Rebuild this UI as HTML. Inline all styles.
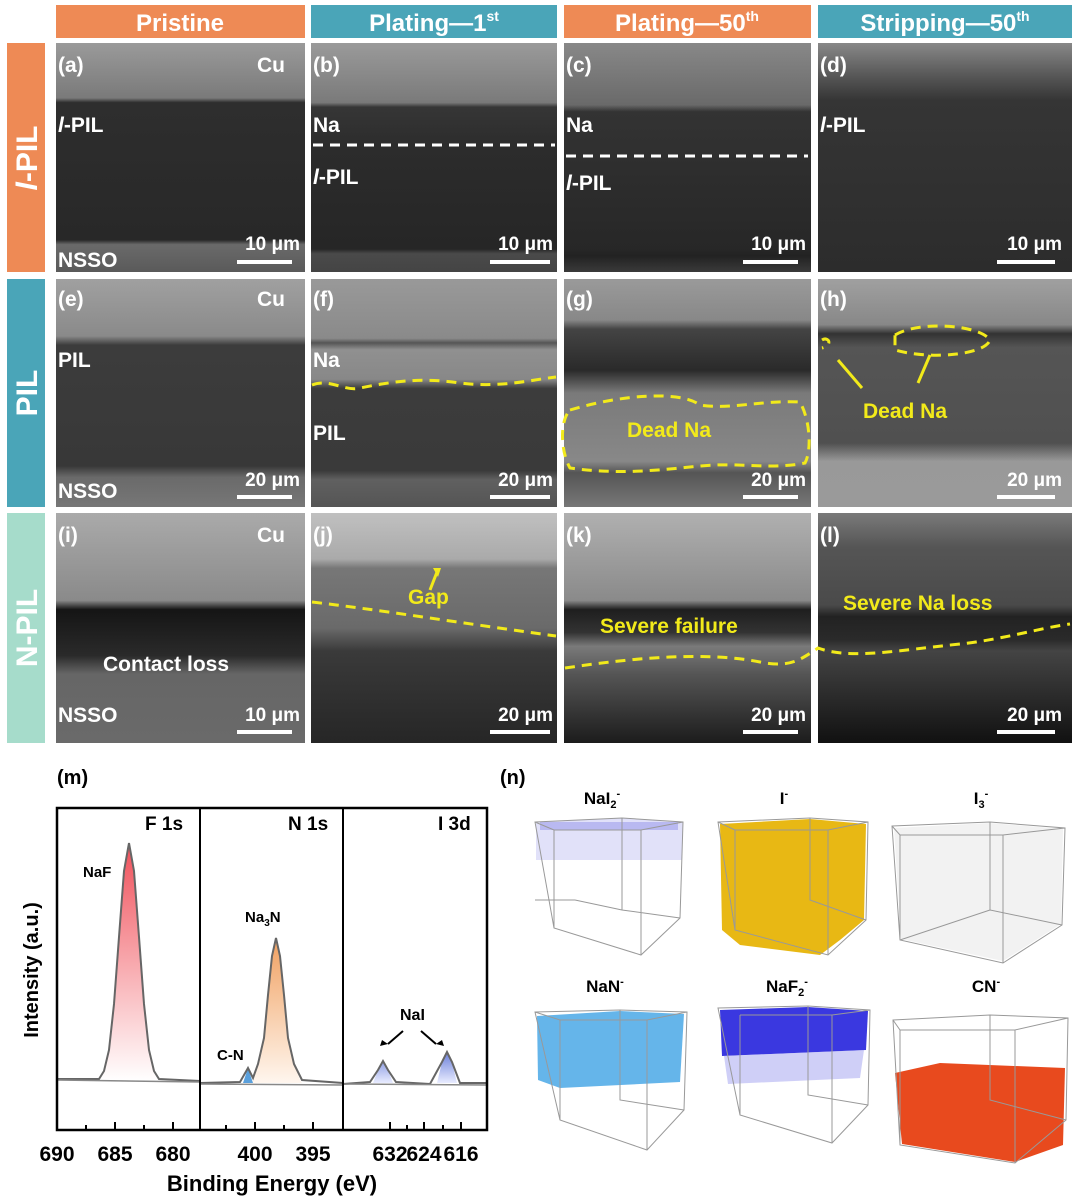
<!DOCTYPE html>
<html><head><meta charset="utf-8"><style>
html,body{margin:0;padding:0;background:#fff;}
svg{display:block;font-family:"Liberation Sans",sans-serif;font-weight:bold;}
</style></head><body>
<svg width="1079" height="1201" viewBox="0 0 1079 1201" xmlns="http://www.w3.org/2000/svg">
<defs>
<linearGradient id="ga" x1="0" y1="0" x2="0" y2="1"><stop offset="0" stop-color="#9a9a9a"/><stop offset=".24" stop-color="#7a7a7a"/><stop offset=".26" stop-color="#2e2e2e"/><stop offset=".86" stop-color="#282828"/><stop offset=".88" stop-color="#6a6a6a"/><stop offset="1" stop-color="#5a5a5a"/></linearGradient>
<linearGradient id="gb" x1="0" y1="0" x2="0" y2="1"><stop offset="0" stop-color="#9a9a9a"/><stop offset=".26" stop-color="#7a7a7a"/><stop offset=".28" stop-color="#363636"/><stop offset=".45" stop-color="#2c2c2c"/><stop offset=".9" stop-color="#262626"/><stop offset=".92" stop-color="#4a4a4a"/><stop offset="1" stop-color="#444"/></linearGradient>
<linearGradient id="gc" x1="0" y1="0" x2="0" y2="1"><stop offset="0" stop-color="#888"/><stop offset=".27" stop-color="#6a6a6a"/><stop offset=".3" stop-color="#333"/><stop offset=".9" stop-color="#272727"/><stop offset=".93" stop-color="#222"/><stop offset="1" stop-color="#3a3a3a"/></linearGradient>
<linearGradient id="gd" x1="0" y1="0" x2="0" y2="1"><stop offset="0" stop-color="#888"/><stop offset=".15" stop-color="#555"/><stop offset=".25" stop-color="#353535"/><stop offset="1" stop-color="#2c2c2c"/></linearGradient>
<linearGradient id="ge" x1="0" y1="0" x2="0" y2="1"><stop offset="0" stop-color="#a0a0a0"/><stop offset=".25" stop-color="#8a8a8a"/><stop offset=".29" stop-color="#3c3c3c"/><stop offset=".82" stop-color="#383838"/><stop offset=".87" stop-color="#6a6a6a"/><stop offset="1" stop-color="#777"/></linearGradient>
<linearGradient id="gf" x1="0" y1="0" x2="0" y2="1"><stop offset="0" stop-color="#999"/><stop offset=".26" stop-color="#8a8a8a"/><stop offset=".28" stop-color="#555"/><stop offset=".31" stop-color="#909090"/><stop offset=".44" stop-color="#888"/><stop offset=".48" stop-color="#3c3c3c"/><stop offset=".84" stop-color="#3a3a3a"/><stop offset=".88" stop-color="#606060"/><stop offset="1" stop-color="#555"/></linearGradient>
<linearGradient id="gg" x1="0" y1="0" x2="0" y2="1"><stop offset="0" stop-color="#9a9a9a"/><stop offset=".18" stop-color="#888"/><stop offset=".22" stop-color="#444"/><stop offset=".4" stop-color="#2a2a2a"/><stop offset=".5" stop-color="#7a7a7a"/><stop offset=".8" stop-color="#888"/><stop offset=".85" stop-color="#555"/><stop offset="1" stop-color="#777"/></linearGradient>
<linearGradient id="gh" x1="0" y1="0" x2="0" y2="1"><stop offset="0" stop-color="#a0a0a0"/><stop offset=".2" stop-color="#888"/><stop offset=".24" stop-color="#333"/><stop offset=".3" stop-color="#555"/><stop offset=".72" stop-color="#505050"/><stop offset=".8" stop-color="#999"/><stop offset="1" stop-color="#9a9a9a"/></linearGradient>
<linearGradient id="gi" x1="0" y1="0" x2="0" y2="1"><stop offset="0" stop-color="#aaa"/><stop offset=".38" stop-color="#8a8a8a"/><stop offset=".42" stop-color="#151515"/><stop offset=".62" stop-color="#2a2a2a"/><stop offset=".7" stop-color="#666"/><stop offset="1" stop-color="#6a6a6a"/></linearGradient>
<linearGradient id="gj" x1="0" y1="0" x2="0" y2="1"><stop offset="0" stop-color="#c0c0c0"/><stop offset=".2" stop-color="#aaa"/><stop offset=".24" stop-color="#777"/><stop offset=".5" stop-color="#6a6a6a"/><stop offset=".6" stop-color="#3a3a3a"/><stop offset="1" stop-color="#262626"/></linearGradient>
<linearGradient id="gk" x1="0" y1="0" x2="0" y2="1"><stop offset="0" stop-color="#b0b0b0"/><stop offset=".38" stop-color="#8a8a8a"/><stop offset=".42" stop-color="#1e1e1e"/><stop offset=".52" stop-color="#333"/><stop offset=".58" stop-color="#7a7a7a"/><stop offset=".7" stop-color="#555"/><stop offset="1" stop-color="#1c1c1c"/></linearGradient>
<linearGradient id="gl" x1="0" y1="0" x2="0" y2="1"><stop offset="0" stop-color="#7a7a7a"/><stop offset=".15" stop-color="#555"/><stop offset=".4" stop-color="#4a4a4a"/><stop offset=".45" stop-color="#222"/><stop offset=".55" stop-color="#2a2a2a"/><stop offset=".6" stop-color="#444"/><stop offset="1" stop-color="#111"/></linearGradient>
<linearGradient id="pr" x1="0" y1="0" x2="0" y2="1"><stop offset="0" stop-color="#f0505a"/><stop offset="1" stop-color="#fff"/></linearGradient>
<linearGradient id="po" x1="0" y1="0" x2="0" y2="1"><stop offset="0" stop-color="#f0a060"/><stop offset="1" stop-color="#fff6ee"/></linearGradient>
<linearGradient id="pb" x1="0" y1="0" x2="0" y2="1"><stop offset="0" stop-color="#6a7ed8"/><stop offset="1" stop-color="#e8ecff"/></linearGradient>
</defs>

<rect x="56" y="5" width="249" height="33" fill="#ee8a55"/>
<rect x="311" y="5" width="246" height="33" fill="#4aa5b8"/>
<rect x="564" y="5" width="247" height="33" fill="#ee8a55"/>
<rect x="818" y="5" width="254" height="33" fill="#4aa5b8"/>
<g fill="#fff" font-size="24" text-anchor="middle">
<text x="180" y="31">Pristine</text>
<text x="434" y="31">Plating—1<tspan font-size="14" dy="-10">st</tspan></text>
<text x="687" y="31">Plating—50<tspan font-size="14" dy="-10">th</tspan></text>
<text x="945" y="31">Stripping—50<tspan font-size="14" dy="-10">th</tspan></text>
</g>
<rect x="7" y="43" width="38" height="229" fill="#ee8a55"/>
<rect x="7" y="279" width="38" height="228" fill="#4aa5b8"/>
<rect x="7" y="513" width="38" height="230" fill="#a6dccb"/>
<g fill="#fff" font-size="30" text-anchor="middle">
<text transform="translate(37,158) rotate(-90)"><tspan font-style="italic">l</tspan>-PIL</text>
<text transform="translate(37,393) rotate(-90)">PIL</text>
<text transform="translate(37,628) rotate(-90)">N-PIL</text>
</g>

<rect x="56" y="43" width="249" height="229" fill="url(#ga)"/>
<rect x="311" y="43" width="246" height="229" fill="url(#gb)"/>
<rect x="564" y="43" width="247" height="229" fill="url(#gc)"/>
<rect x="818" y="43" width="254" height="229" fill="url(#gd)"/>
<rect x="56" y="279" width="249" height="228" fill="url(#ge)"/>
<rect x="311" y="279" width="246" height="228" fill="url(#gf)"/>
<rect x="564" y="279" width="247" height="228" fill="url(#gg)"/>
<rect x="818" y="279" width="254" height="228" fill="url(#gh)"/>
<rect x="56" y="513" width="249" height="230" fill="url(#gi)"/>
<rect x="311" y="513" width="246" height="230" fill="url(#gj)"/>
<rect x="564" y="513" width="247" height="230" fill="url(#gk)"/>
<rect x="818" y="513" width="254" height="230" fill="url(#gl)"/>

<g fill="#fff" font-size="21">
<text x="58" y="72">(a)</text><text x="257" y="72">Cu</text>
<text x="58" y="132"><tspan font-style="italic">l</tspan>-PIL</text><text x="58" y="267">NSSO</text>
<text x="313" y="72">(b)</text><text x="313" y="132">Na</text><text x="313" y="184"><tspan font-style="italic">l</tspan>-PIL</text>
<text x="566" y="72">(c)</text><text x="566" y="132">Na</text><text x="566" y="190"><tspan font-style="italic">l</tspan>-PIL</text>
<text x="820" y="72">(d)</text><text x="820" y="132"><tspan font-style="italic">l</tspan>-PIL</text>
<text x="58" y="306">(e)</text><text x="257" y="306">Cu</text><text x="58" y="367">PIL</text><text x="58" y="498">NSSO</text>
<text x="313" y="306">(f)</text><text x="313" y="367">Na</text><text x="313" y="440">PIL</text>
<text x="566" y="306">(g)</text><text x="820" y="306">(h)</text>
<text x="58" y="542">(i)</text><text x="257" y="542">Cu</text><text x="103" y="671">Contact loss</text><text x="58" y="722">NSSO</text>
<text x="313" y="542">(j)</text><text x="566" y="542">(k)</text><text x="820" y="542">(l)</text>
</g>
<g fill="#fff" font-size="19" text-anchor="end">
<text x="300" y="250">10 μm</text><text x="553" y="250">10 μm</text><text x="806" y="250">10 μm</text><text x="1062" y="250">10 μm</text>
<text x="300" y="486">20 μm</text><text x="553" y="486">20 μm</text><text x="806" y="486">20 μm</text><text x="1062" y="486">20 μm</text>
<text x="300" y="721">10 μm</text><text x="553" y="721">20 μm</text><text x="806" y="721">20 μm</text><text x="1062" y="721">20 μm</text>
</g>
<g stroke="#fff" stroke-width="4">
<path d="M237 262h55M490 262h60M743 262h55M997 262h58"/>
<path d="M237 497h55M490 497h60M743 497h55M997 497h58"/>
<path d="M237 732h55M490 732h60M743 732h55M997 732h58"/>
</g>
<path d="M313 145H555M566 156H808" stroke="#fff" stroke-width="3" stroke-dasharray="10,7"/>
<g fill="none" stroke="#f2ea1a" stroke-width="3" stroke-dasharray="10,7">
<path d="M312 385 C330 378 345 392 360 388 C390 382 420 377 460 383 C500 388 530 380 556 377"/>
<path d="M570 410 C620 395 680 390 700 405 C730 410 760 400 800 402 C810 420 812 450 805 463 C770 470 740 462 700 466 C660 470 620 475 570 468 C560 450 560 420 570 410Z"/>
<path d="M822 340 C828 336 834 345 822 348"/>
<path d="M895 335 C920 320 980 325 990 340 C985 355 930 360 895 350 Z"/>
<path d="M312 602 C380 610 440 620 556 636"/>
<path d="M565 668 C620 660 700 650 760 662 C790 668 800 660 818 648 C850 660 900 650 960 644 C1000 640 1040 628 1070 624"/>
</g>
<g fill="#f2ea1a" font-size="21">
<text x="627" y="437">Dead Na</text><text x="863" y="418">Dead Na</text>
<text x="408" y="604">Gap</text><text x="600" y="633">Severe failure</text><text x="843" y="610">Severe Na loss</text>
</g>
<g stroke="#f2ea1a" stroke-width="3"><path d="M838 360L862 388M930 355L918 383M430 590L437 572"/></g>
<path d="M433 568l8 0l-3 9z" fill="#f2ea1a"/>

<text x="57" y="784" font-size="20">(m)</text>
<g font-size="19">
<text x="145" y="830">F 1s</text><text x="288" y="830">N 1s</text><text x="438" y="830">I 3d</text>
<text x="83" y="877" font-size="15">NaF</text>
<text x="245" y="922" font-size="15">Na<tspan font-size="10" dy="4">3</tspan><tspan dy="-4">N</tspan></text>
<text x="217" y="1060" font-size="15">C-N</text>
<text x="400" y="1020" font-size="16">NaI</text>
</g>
<path d="M403 1031l-15 13M421 1031l15 13" stroke="#000" stroke-width="2"/>
<path d="M382 1040l6 4l-8 2zM442 1040l-6 4l8 2z" fill="#000"/>
<path d="M57 1079 L99 1079 L104 1071 L109 1050 L114 1004 L119 937 L124 871 L129 843 L134 871 L139 937 L144 1004 L149 1050 L154 1071 L159 1079 L200 1081Z" fill="url(#pr)"/>
<path d="M57 1079 L99 1079 L104 1071 L109 1050 L114 1004 L119 937 L124 871 L129 843 L134 871 L139 937 L144 1004 L149 1050 L154 1071 L159 1079 L200 1081" fill="none" stroke="#666" stroke-width="2"/>
<path d="M57 1080L200 1082" stroke="#888" stroke-width="1.5"/>
<path d="M252 1083 L258 1064 L264 1038 L268 995 L272 956 L276 938 L280 956 L284 995 L288 1038 L294 1064 L300 1080 L302 1083Z" fill="url(#po)"/>
<path d="M243 1083 L248 1068 L253 1083Z" fill="#5aa0dc"/>
<path d="M200 1083 L240 1082 L248 1068 L253 1078 L258 1064 L264 1038 L268 995 L272 956 L276 938 L280 956 L284 995 L288 1038 L294 1064 L302 1080 L343 1083" fill="none" stroke="#666" stroke-width="2"/>
<path d="M200 1084L343 1085" stroke="#888" stroke-width="1.5"/>
<path d="M373 1083 L378 1070 L383 1061 L388 1070 L393 1083Z M437 1083 L442 1062 L447 1052 L452 1062 L457 1083Z" fill="url(#pb)"/>
<path d="M343 1084 L370 1082 L378 1070 L383 1061 L388 1070 L396 1082 L430 1084 L442 1062 L447 1052 L452 1062 L460 1083 L487 1083" fill="none" stroke="#666" stroke-width="2"/>
<path d="M343 1084L487 1085" stroke="#888" stroke-width="1.5"/>
<rect x="57" y="808" width="430" height="322" fill="none" stroke="#000" stroke-width="2.5"/>
<path d="M200 808V1130M343 808V1130" stroke="#000" stroke-width="2"/>
<g stroke="#000" stroke-width="2"><path d="M57 1130v-8M86 1130v-5M115 1130v-8M144 1130v-5M173 1130v-8M226 1130v-5M255 1130v-8M284 1130v-5M313 1130v-8M390 1130v-8M407 1130v-5M424 1130v-8M443 1130v-5M461 1130v-8"/></g>
<g font-size="21" text-anchor="middle">
<text x="57" y="1161">690</text><text x="115" y="1161">685</text><text x="173" y="1161">680</text>
<text x="255" y="1161">400</text><text x="313" y="1161">395</text>
<text x="390" y="1161">632</text><text x="424" y="1161">624</text><text x="461" y="1161">616</text>
<text x="272" y="1191" font-size="22">Binding Energy (eV)</text>
<text transform="translate(38,970) rotate(-90)" font-size="20">Intensity (a.u.)</text>
</g>

<text x="500" y="784" font-size="20">(n)</text>
<g font-size="17" text-anchor="middle">
<text x="602" y="804">NaI<tspan font-size="11" dy="4">2</tspan><tspan font-size="11" dy="-11">-</tspan></text>
<text x="784" y="804">I<tspan font-size="11" dy="-7">-</tspan></text>
<text x="981" y="804">I<tspan font-size="11" dy="4">3</tspan><tspan font-size="11" dy="-11">-</tspan></text>
<text x="605" y="992">NaN<tspan font-size="11" dy="-7">-</tspan></text>
<text x="787" y="992">NaF<tspan font-size="11" dy="4">2</tspan><tspan font-size="11" dy="-11">-</tspan></text>
<text x="986" y="992">CN<tspan font-size="11" dy="-7">-</tspan></text>
</g>
<path d="M536 822 L622 818 L683 822 L682 860 L536 860Z" fill="#c8c8f4" opacity=".55"/>
<path d="M540 826 L678 826" stroke="#8a8ae8" stroke-width="8" opacity=".45"/>
<path d="M720 824 L810 819 L866 824 L864 920 L840 940 L820 955 L740 945 L722 930Z" fill="#e8b814"/>
<path d="M894 828 L990 823 L1063 829 L1061 924 L1003 961 L901 939 Z" fill="#f2f2f2"/>
<path d="M537 1016 L620 1011 L684 1014 L680 1082 L560 1088 L538 1080Z" fill="#4aa8e6" opacity=".85"/>
<path d="M720 1010 L808 1007 L868 1011 L866 1050 L722 1056Z" fill="#3a38e0"/>
<path d="M724 1056 L864 1050 L860 1078 L728 1084Z" fill="#a8a8f0" opacity=".55"/>
<path d="M895 1073 L940 1063 L1065 1068 L1063 1145 L1015 1162 L902 1144Z" fill="#e84a1e"/>
<g fill="none" stroke="#999" stroke-width="1">
<path d="M535 822 L622 818 L683 822 L680 918 L641 955 L554 928 Z M535 822 L554 830 L641 830 L683 822 M554 830 L554 928 M641 830 L641 955 M575 900 L622 910 L680 918 M622 818 L622 910 M575 900 L535 900"/>
<path d="M718 822 L810 818 L868 822 L866 920 L828 955 L735 930 Z M735 830 L828 830 L868 822 M735 830 L735 930 M828 830 L828 955 M718 822 L735 830 M810 818 L810 900 L866 920"/>
<path d="M892 826 L990 822 L1065 828 L1062 925 L1003 963 L900 940 Z M892 826 L900 835 L1003 835 L1065 828 M900 835 L900 940 M1003 835 L1003 963 M990 822 L990 910 L1062 925 M990 910 L900 940"/>
<path d="M535 1012 L620 1010 L687 1012 L684 1110 L647 1150 L560 1120 Z M535 1012 L560 1020 L647 1020 L687 1012 M560 1020 L560 1120 M647 1020 L647 1150 M620 1010 L620 1100 L684 1110"/>
<path d="M718 1008 L808 1006 L870 1010 L868 1105 L832 1143 L740 1115 Z M740 1015 L832 1015 L870 1010 M740 1015 L740 1115 M832 1015 L832 1143 M808 1006 L808 1095 L868 1105"/>
<path d="M893 1020 L990 1015 L1068 1018 L1066 1120 L1015 1163 L900 1145 Z M893 1020 L900 1030 L1015 1030 L1068 1018 M900 1030 L900 1145 M1015 1030 L1015 1163 M990 1015 L990 1100 L1066 1120"/>
</g>
</svg>
</body></html>
